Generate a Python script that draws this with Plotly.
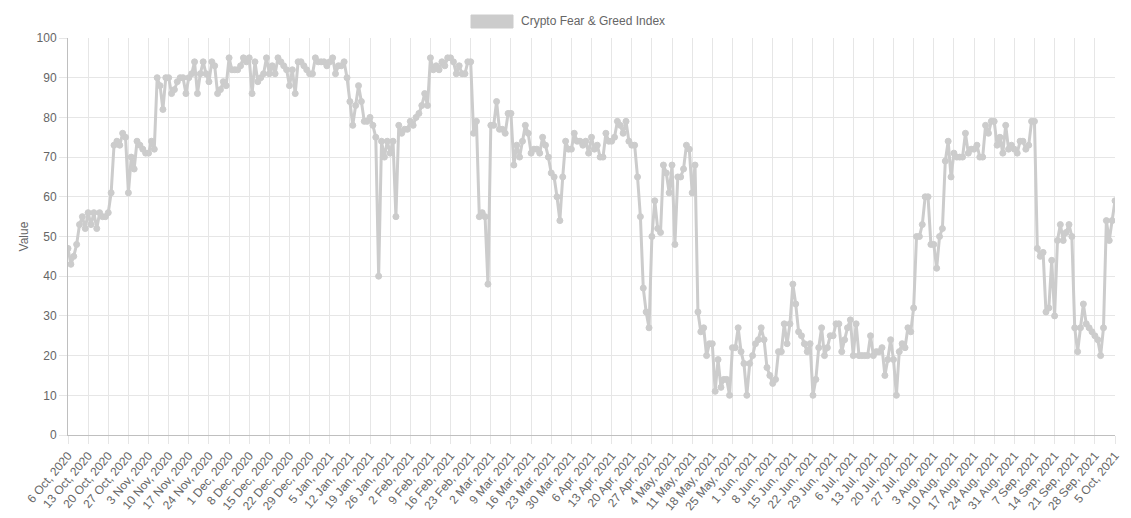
import pandas as pd
import plotly.graph_objects as go

series_name = "Crypto Fear & Greed Index"
start_date = "2020-10-06"

# daily index values, 6 Oct 2020 .. 5 Oct 2021
values_oct_nov = [47, 43, 45, 48, 53, 55, 52, 56, 53, 56, 52, 56, 55, 55, 56, 61, 73, 74, 73, 76,
                  75, 61, 70, 67, 74, 73, 72, 71, 71, 74, 72]
values_nov_dec = [90, 88, 82, 90, 90, 86, 87, 89, 90, 90, 86, 90, 91, 94, 86, 91, 94, 91, 89, 94,
                  93, 86, 87, 89, 88, 95, 92, 92, 92, 93]
values_dec_jan = [95, 94, 95, 86, 94, 89, 90, 91, 95, 91, 93, 91, 95, 94, 93, 92, 88, 92, 86, 94,
                  94, 93, 92, 91, 91, 95, 94, 94, 94, 93, 94, 95]
values_jan_feb = [91, 93, 93, 94, 90, 84, 78, 83, 88, 84, 79, 79, 80, 78, 75, 40, 74, 70, 74, 71,
                  74, 55, 78, 76, 77, 77, 79, 78, 80, 81, 83, 86]
values_feb_mar = [83, 95, 92, 93, 92, 94, 93, 95, 95, 94, 91, 93, 91, 91, 94, 94, 76, 79, 55, 56,
                  55, 38, 78, 78, 84, 77, 77, 76, 81, 81, 68]
values_mar_apr = [73, 70, 74, 78, 76, 71, 72, 72, 71, 75, 73, 70, 66, 65, 60, 54, 65, 74, 72, 72,
                  76, 74, 74, 73, 74, 71, 75, 72, 73, 70, 70, 76]
values_apr_may = [74, 74, 75, 79, 78, 76, 79, 74, 73, 73, 65, 55, 37, 31, 27, 50, 59, 52, 51, 68,
                  66, 61, 68, 48, 65, 65, 67, 73, 72, 61, 68]
values_may_jun = [31, 26, 27, 20, 23, 23, 11, 19, 12, 14, 14, 10, 22, 22, 27, 21, 18, 10, 18, 20,
                  23, 24, 27, 24, 17, 15, 13, 14, 21, 21, 28, 23, 28, 38, 33, 26, 25, 23, 21, 23]
values_jun_jul = [10, 14, 22, 27, 20, 22, 25, 25, 28, 28, 21, 24, 27, 29, 20, 28, 20, 20, 20, 20,
                  25, 20, 21, 21, 22, 15, 19, 24, 19, 10, 21, 23, 22, 27, 26, 32]
values_jul_aug = [50, 50, 53, 60, 60, 48, 48, 42, 50, 52, 69, 74, 65, 71, 70, 70]
values_aug_sep = [70, 76, 71, 72, 72, 73, 70, 70, 78, 76, 79, 79, 73, 75, 71, 78, 72, 73, 72, 71,
                  74, 74, 72, 73, 79, 79]
values_sep_oct = [47, 45, 46, 31, 32, 44, 30, 49, 53, 49, 51, 53, 50, 27, 21, 27, 33, 28, 27, 26,
                  25, 24, 20, 27, 54, 49, 54, 59]

values = (values_oct_nov + values_nov_dec + values_dec_jan + values_jan_feb + values_feb_mar
          + values_mar_apr + values_apr_may + values_may_jun + values_jun_jul + values_jul_aug
          + values_aug_sep + values_sep_oct)

dates = pd.date_range(start_date, periods=len(values), freq="D")
tick_dates = list(dates[::7])
tick_text = [f"{d.day} {d.strftime('%b')}, {d.year}" for d in tick_dates]

line_color = "#cccccc"
grid_color = "#e6e6e6"
axis_color = "#bfbfbf"
font_family = "Liberation Sans, Arial, Helvetica, sans-serif"

fig = go.Figure()
fig.add_trace(go.Scatter(
    x=dates, y=values, mode="lines+markers", name=series_name,
    line=dict(color=line_color, width=3),
    marker=dict(size=6, color=line_color, line=dict(color=line_color, width=1)),
    showlegend=False,
))

# page body has an 8px margin, so the figure is drawn 8px smaller and offset
W, H = 1123, 510
ml, mr, mt, mb = 60, 16, 30, 83
pw, ph = W - ml - mr, H - mt - mb
def px(x):
    return (x - ml) / pw
def py(y):
    return (H - mb - y) / ph

# Chart.js style legend: filled box + label, centred above the plot
fig.add_shape(type="rect", xref="paper", yref="paper",
              x0=px(463), x1=px(505), y0=py(20), y1=py(7),
              fillcolor=line_color, line=dict(color=line_color, width=1))
fig.add_annotation(xref="paper", yref="paper", x=px(511), y=py(13.5),
                   xanchor="left", yanchor="middle", showarrow=False,
                   text=series_name, font=dict(size=12, color="#666666", family=font_family))

fig.update_layout(
    width=W, height=H,
    margin=dict(l=ml, r=mr, t=mt, b=mb, autoexpand=False),
    paper_bgcolor="white", plot_bgcolor="white",
    font=dict(family=font_family, size=12, color="#666666"),
    xaxis=dict(
        range=[dates[0], dates[-1]], automargin=False,
        tickmode="array", tickvals=tick_dates, ticktext=tick_text,
        tickangle=-50, showgrid=True, gridcolor=grid_color, gridwidth=1,
        ticks="outside", ticklen=8, tickcolor=grid_color,
        showline=True, linecolor=axis_color, linewidth=1,
        zeroline=False, tickfont=dict(size=12, color="#666666"),
    ),
    yaxis=dict(
        range=[0, 100], dtick=10, tick0=0, automargin=False,
        showgrid=True, gridcolor=grid_color, gridwidth=1,
        ticks="outside", ticklen=8, tickcolor=grid_color,
        showline=True, linecolor=axis_color, linewidth=1,
        zeroline=False, tickfont=dict(size=12, color="#666666"),
        title=dict(text="Value", font=dict(size=12, color="#666666"), standoff=5),
    ),
)

fig.write_html("out.html")
